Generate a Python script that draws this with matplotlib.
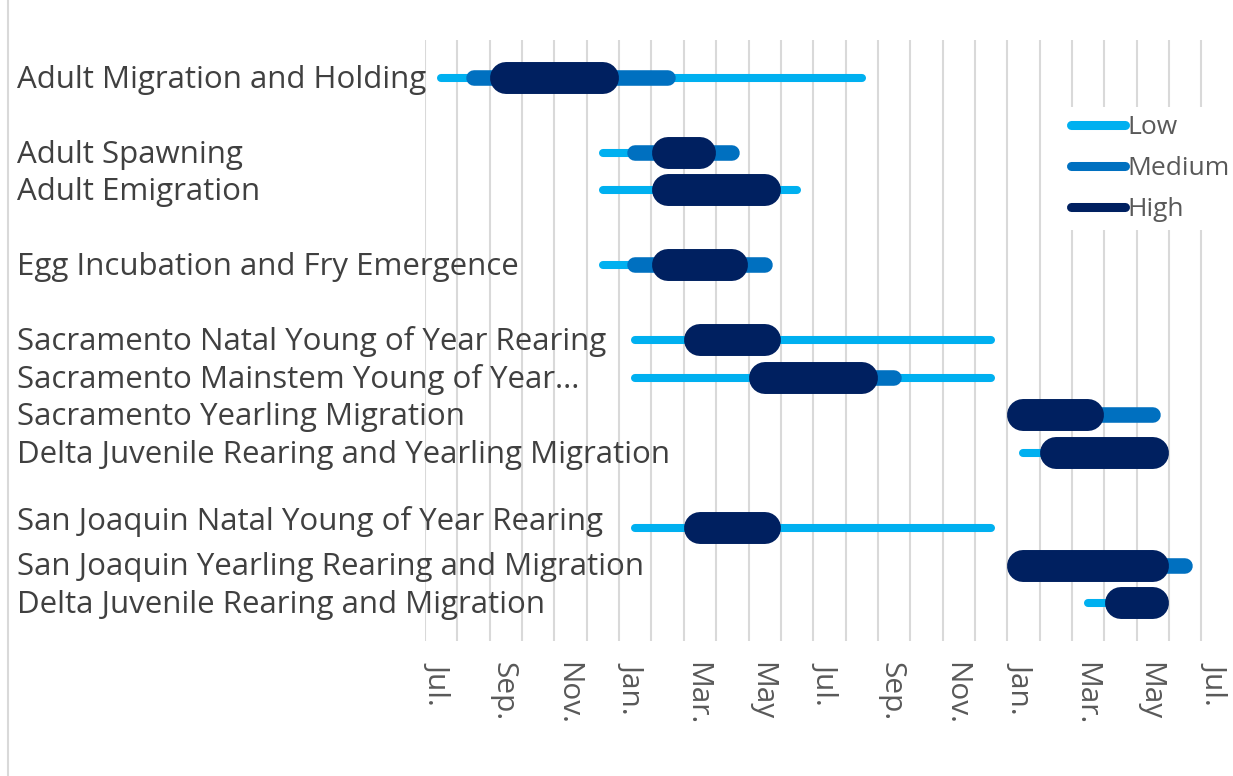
import matplotlib.pyplot as plt
from matplotlib.lines import Line2D
from matplotlib.transforms import blended_transform_factory, offset_copy, ScaledTranslation

plt.rcParams['font.family'] = ['Open Sans', 'DejaVu Sans']

# categories (blank strings are the empty gap rows of the chart)
rows = ["Adult Migration and Holding", "",
        "Adult Spawning", "Adult Emigration", "",
        "Egg Incubation and Fry Emergence", "",
        "Sacramento Natal Young of Year Rearing",
        "Sacramento Mainstem Young of Year...",
        "Sacramento Yearling Migration",
        "Delta Juvenile Rearing and Yearling Migration", "",
        "San Joaquin Natal Young of Year Rearing",
        "San Joaquin Yearling Rearing and Migration",
        "Delta Juvenile Rearing and Migration"]

# periods in months counted from July (0) over two years, one entry per non-blank row
low = [(0.5, 13.5), (5.5, 9.5), (5.5, 11.5), (5.5, 10.5), (6.5, 17.5), (6.5, 17.5),
       None, (18.5, 22.5), (6.5, 17.5), None, (20.5, 22.5)]
medium = [(1.5, 7.5), (6.5, 9.5), None, (6.5, 10.5), None, (10.5, 14.5),
          (18.5, 22.5), None, None, (18.5, 23.5), None]
high = [(2.5, 5.5), (7.5, 8.5), (7.5, 10.5), (7.5, 9.5), (8.5, 10.5), (10.5, 13.5),
        (18.5, 20.5), (19.5, 22.5), (8.5, 10.5), (18.5, 22.5), (21.5, 22.5)]

# month categories: labels every second month, placed at the category centre
month_labels = ["Jul.", "Sep.", "Nov.", "Jan.", "Mar.", "May", "Jul.",
                "Sep.", "Nov.", "Jan.", "Mar.", "May", "Jul."]
n_months = 25

c_low, c_med, c_high = '#00B0F0', '#0070C0', '#002060'

fig = plt.figure(figsize=(12.33, 7.76), dpi=100)
ax = fig.add_axes([425 / 1233, 1 - 640.5 / 776, 808.75 / 1233, 600 / 776])

ypos = [i for i, r in enumerate(rows) if r]

for series, color, lw in [(low, c_low, 5.8), (medium, c_med, 11.2), (high, c_high, 23)]:
    for y, span in zip(ypos, series):
        if span is None:
            continue
        ax.plot(span, [y, y], color=color, lw=lw, solid_capstyle='round', zorder=3)

ax.set_xlim(0, n_months)
ax.set_ylim(len(rows), -1)
ax.set_xticks(range(0, n_months))
ax.set_xticklabels([])
ax.set_xticks([0.5 + 2 * k for k in range(len(month_labels))], minor=True)
ax.set_xticklabels(month_labels, minor=True, rotation=270, fontsize=21.5, color='#595959')
ax.tick_params(axis='x', which='both', length=0, pad=15.5)
shift = ScaledTranslation(-3 / 100, 0, fig.dpi_scale_trans)
for lab in ax.get_xticklabels(minor=True):
    lab.set_transform(lab.get_transform() + shift)
ax.set_yticks([])
ax.grid(axis='x', which='major', color='#D9D9D9', lw=1.5, zorder=0)
for s in ax.spines.values():
    s.set_visible(False)

# row labels sit on a baseline a little below the bar centre
base = blended_transform_factory(fig.transFigure, ax.transData)
nudge = {12: 8}
for y in ypos:
    tr = offset_copy(base, fig=fig, x=0, y=-(10 - nudge.get(y, 0)), units='dots')
    ax.text(17 / 1233, y, rows[y], transform=tr, ha='left', va='baseline',
            fontsize=22.5, color='#404040')

# left frame line of the chart area
fig.add_artist(Line2D([8 / 1233, 8 / 1233], [0, 1], color='#D9D9D9', lw=1.5))

handles = [Line2D([], [], color=c, lw=6.5, solid_capstyle='round') for c in (c_low, c_med, c_high)]
leg = fig.legend(handles, ["Low", "Medium", "High"], loc='center left',
                 bbox_to_anchor=(1063 / 1233, 1 - 168.5 / 776), frameon=True,
                 fontsize=19, handlelength=2.05, handletextpad=0.1, labelspacing=0.6,
                 borderpad=0.3, borderaxespad=0)
leg.get_frame().set_facecolor('white')
leg.get_frame().set_edgecolor('none')
leg.get_frame().set_alpha(1)
for t in leg.get_texts():
    t.set_color('#595959')

fig.savefig('out.png', dpi=100)
